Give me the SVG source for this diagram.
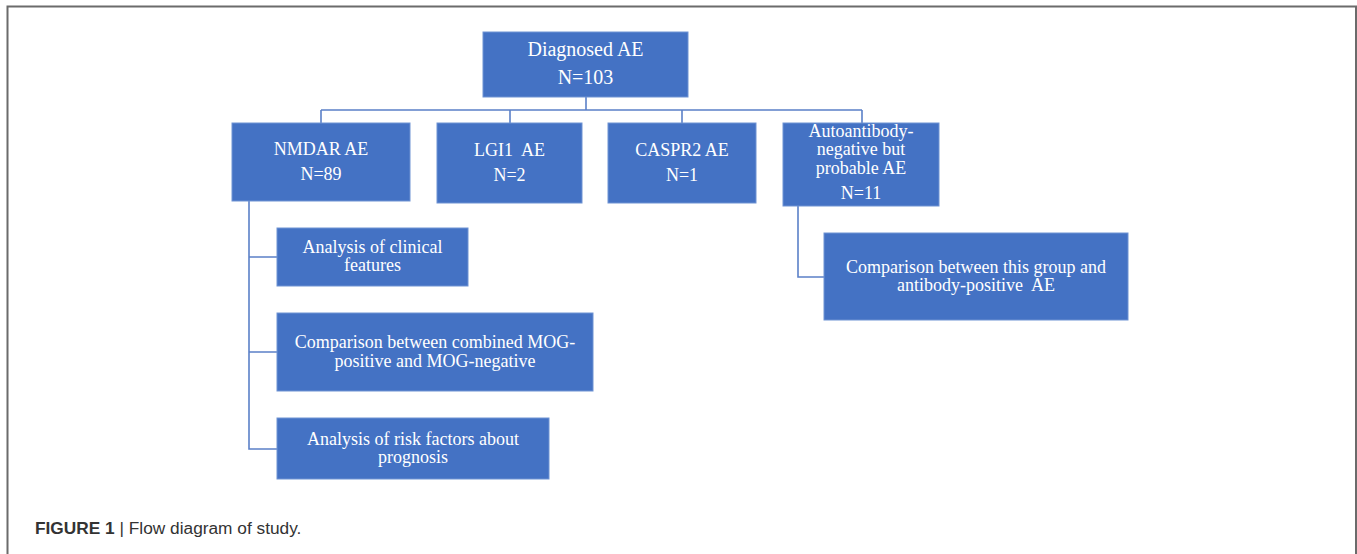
<svg xmlns="http://www.w3.org/2000/svg" width="1357" height="554" viewBox="0 0 1357 554">
<style>
.box{fill:#4472C4;stroke:#6F93D3;stroke-width:1}
.t{font-family:"Liberation Serif","Times New Roman",serif;fill:#ffffff;text-anchor:middle;white-space:pre}
.t20{font-size:20px}
.t18{font-size:18px}
.conn{fill:none;stroke:#5B80C8;stroke-width:1.6}
.frame{fill:none;stroke:#6b6b6b;stroke-width:2}
.cap{font-family:"Liberation Sans",Arial,sans-serif;font-size:17.3px;fill:#333333}
</style>
<rect width="1357" height="554" fill="#ffffff"/>
<path class="frame" d="M7.5 554 V6.5 H1356 V554"/>
<g id="connectors">
<path class="conn" d="M586 97 V110 M321 110 H862 M321 110 V123 M510 110 V123 M682 110 V123 M862 110 V123"/>
<path class="conn" d="M249 201 V449 H277 M249 257 H277 M249 352 H277"/>
<path class="conn" d="M798 206 V277 H824"/>
</g>
<g id="diagnosed">
<rect class="box" x="483" y="32" width="205" height="65"/>
<text class="t t20" x="585.5" y="56">Diagnosed AE</text>
<text class="t t20" x="585.5" y="84">N=103</text>
</g>
<g id="nmdar">
<rect class="box" x="232" y="123" width="178" height="78"/>
<text class="t t18" x="321" y="155">NMDAR AE</text>
<text class="t t18" x="321" y="180">N=89</text>
</g>
<g id="lgi1">
<rect class="box" x="437" y="123" width="145" height="80"/>
<text class="t t18" x="509.5" y="156" xml:space="preserve">LGI1  AE</text>
<text class="t t18" x="509.5" y="181">N=2</text>
</g>
<g id="caspr2">
<rect class="box" x="608" y="123" width="148" height="80"/>
<text class="t t18" x="682" y="156">CASPR2 AE</text>
<text class="t t18" x="682" y="181">N=1</text>
</g>
<g id="autoab">
<rect class="box" x="783" y="123" width="156" height="83"/>
<text class="t t18" x="861" y="137">Autoantibody-</text>
<text class="t t18" x="861" y="155">negative but</text>
<text class="t t18" x="861" y="174">probable AE</text>
<text class="t t18" x="861" y="199">N=11</text>
</g>
<g id="clinical">
<rect class="box" x="277" y="228" width="191" height="58"/>
<text class="t t18" x="372.5" y="253">Analysis of clinical</text>
<text class="t t18" x="372.5" y="271">features</text>
</g>
<g id="mog">
<rect class="box" x="277" y="313" width="316" height="78"/>
<text class="t t18" x="435" y="348">Comparison between combined MOG-</text>
<text class="t t18" x="435" y="367">positive and MOG-negative</text>
</g>
<g id="risk">
<rect class="box" x="277" y="418" width="272" height="61"/>
<text class="t t18" x="413" y="445">Analysis of risk factors about</text>
<text class="t t18" x="413" y="463">prognosis</text>
</g>
<g id="compare">
<rect class="box" x="824" y="233" width="304" height="87"/>
<text class="t t18" x="976" y="273">Comparison between this group and</text>
<text class="t t18" x="976" y="291" xml:space="preserve">antibody-positive  AE</text>
</g>
<text class="cap" x="35" y="534"><tspan font-weight="bold">FIGURE 1</tspan> | Flow diagram of study.</text>
</svg>
